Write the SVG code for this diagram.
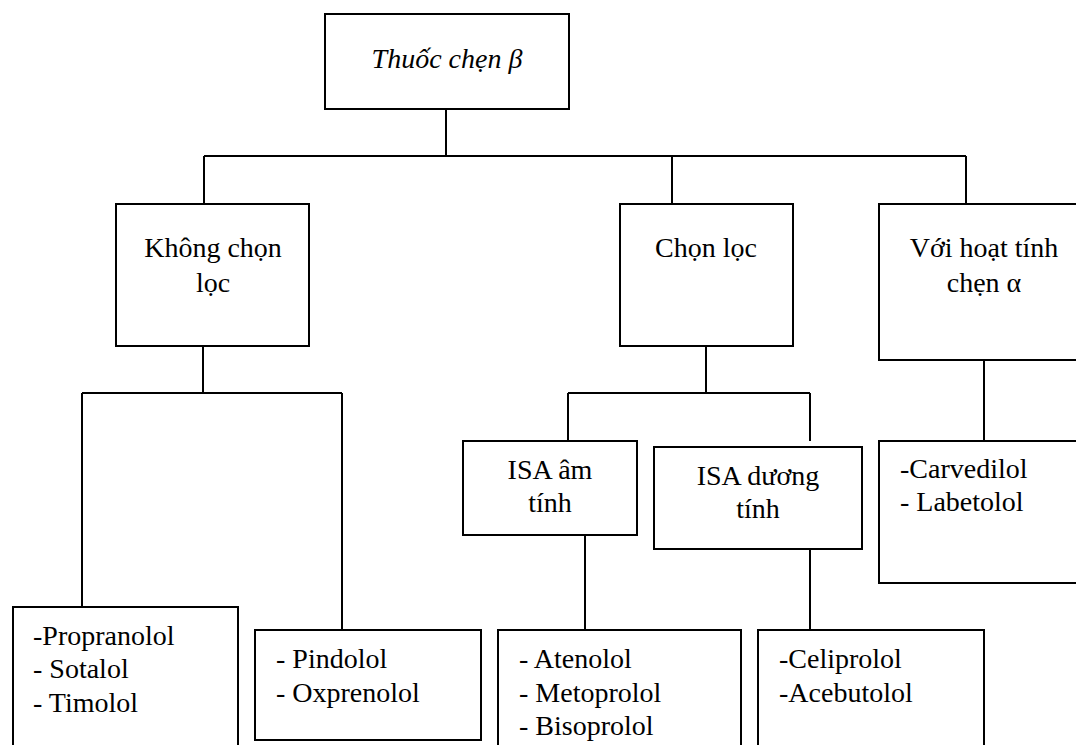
<svg xmlns="http://www.w3.org/2000/svg" width="1076" height="745" viewBox="0 0 1076 745">
<style>
.box{fill:#fff;stroke:#000;stroke-width:2}
.ln{fill:none;stroke:#000;stroke-width:2}
text{font-family:'Liberation Serif','Times New Roman',Times,'DejaVu Serif',serif;font-size:28px;fill:#000}
.c{text-anchor:middle}
.it{font-style:italic}
</style>
<rect width="1076" height="745" fill="#fff"/>
<g id="connectors">
<path class="ln" d="M446,109V156M204,156H966M204,156V204M672,156V204M966,156V204"/>
<path class="ln" d="M203,346V393M82,393H342M82,393V607M342,393V630"/>
<path class="ln" d="M706,346V393M568,393H810M568,393V441M810,393V441"/>
<path class="ln" d="M585,535V630M810,549V630M984,360V441"/>
</g>
<g id="root"><rect class="box" x="325" y="14" width="244" height="95"/><text class="c it" x="447" y="68" font-family="Liberation Serif, serif">Thuốc chẹn β</text></g>
<g id="khong-chon-loc"><rect class="box" x="116" y="204" width="193" height="142"/><text class="c" x="213" y="257">Không chọn</text><text class="c" x="213" y="292">lọc</text></g>
<g id="chon-loc"><rect class="box" x="620" y="204" width="173" height="142"/><text class="c" x="706" y="257">Chọn lọc</text></g>
<g id="voi-hoat-tinh"><rect class="box" x="879" y="204" width="220" height="156"/><text class="c" x="984" y="257">Với hoạt tính</text><text class="c" x="984" y="292">chẹn α</text></g>
<g id="isa-am"><rect class="box" x="463" y="441" width="174" height="94"/><text class="c" x="550" y="479">ISA âm</text><text class="c" x="550" y="512">tính</text></g>
<g id="isa-duong"><rect class="box" x="654" y="447" width="208" height="102"/><text class="c" x="758" y="485">ISA dương</text><text class="c" x="758" y="518">tính</text></g>
<g id="carvedilol"><rect class="box" x="879" y="441" width="220" height="142"/><text x="900" y="478">-Carvedilol</text><text x="900" y="511">- Labetolol</text></g>
<g id="propranolol"><rect class="box" x="13" y="607" width="225" height="150"/><text x="33" y="645">-Propranolol</text><text x="33" y="678">- Sotalol</text><text x="33" y="712">- Timolol</text></g>
<g id="pindolol"><rect class="box" x="255" y="630" width="226" height="110"/><text x="276" y="668">- Pindolol</text><text x="276" y="702">- Oxprenolol</text></g>
<g id="atenolol"><rect class="box" x="498" y="630" width="243" height="130"/><text x="519" y="668">- Atenolol</text><text x="519" y="702">- Metoprolol</text><text x="519" y="735">- Bisoprolol</text></g>
<g id="celiprolol"><rect class="box" x="758" y="630" width="226" height="130"/><text x="779" y="668">-Celiprolol</text><text x="779" y="702">-Acebutolol</text></g>
</svg>
